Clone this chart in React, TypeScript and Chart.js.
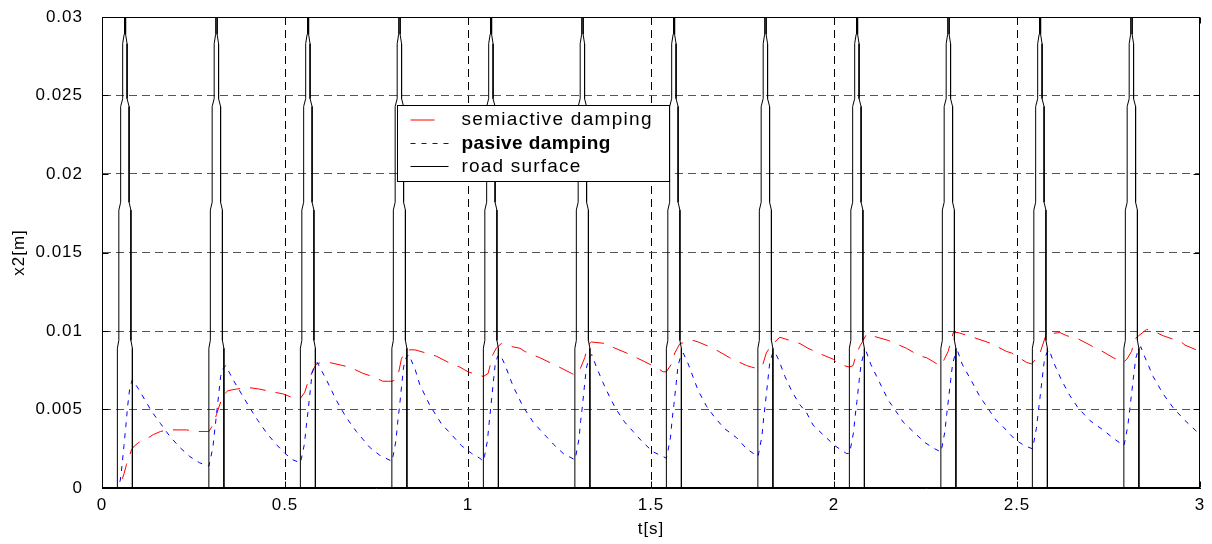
import React, { useEffect, useRef } from 'react';
import { Chart, registerables } from 'chart.js';

Chart.register(...registerables);

// ---- axis ticks ----
const xTickValues = [0, 0.5, 1, 1.5, 2, 2.5, 3];
const xTickLabels = ['0', '0.5', '1', '1.5', '2', '2.5', '3'];
const yTickValues = [0, 0.005, 0.01, 0.015, 0.02, 0.025, 0.03];
const yTickLabels = ['0', '0.005', '0.01', '0.015', '0.02', '0.025', '0.03'];

const legendLabels = ['semiactive damping', 'pasive damping', 'road surface'];

// ---- semiactive damping: [t (s), x2 (m)] ----
const semiactive: [number, number][] = [
  [0, 0], [0.042, 0], [0.05, 0.0002], [0.06, 0.0009], [0.067, 0.0015], [0.072, 0.0018], [0.08, 0.0024], [0.085, 0.0026],
  [0.09, 0.0027], [0.1, 0.0029], [0.12, 0.0031], [0.14, 0.0034], [0.16, 0.0036], [0.18, 0.0037], [0.23, 0.0037], [0.26, 0.0036], [0.292, 0.0036],
  [0.3, 0.0039], [0.308, 0.0043], [0.313, 0.0047], [0.326, 0.0056], [0.331, 0.0059], [0.344, 0.0062], [0.367, 0.0063], [0.4, 0.0064],
  [0.43, 0.0063], [0.47, 0.0061], [0.494, 0.006], [0.526, 0.0057], [0.542, 0.0057],
  [0.554, 0.0061], [0.562, 0.0067], [0.576, 0.0075], [0.586, 0.0079], [0.6, 0.008], [0.62, 0.008], [0.658, 0.0078], [0.677, 0.0077],
  [0.713, 0.0073], [0.74, 0.0071], [0.767, 0.0068], [0.792, 0.0068],
  [0.804, 0.0069], [0.809, 0.0072], [0.818, 0.0082], [0.827, 0.0087], [0.841, 0.0088], [0.855, 0.0088], [0.9, 0.0085], [0.913, 0.0084],
  [0.955, 0.0079], [0.978, 0.0077], [1.0, 0.0074], [1.042, 0.0071],
  [1.055, 0.0073], [1.068, 0.0085], [1.077, 0.0089], [1.091, 0.0092], [1.1, 0.0091], [1.142, 0.0089], [1.155, 0.0087], [1.196, 0.0083],
  [1.241, 0.0078], [1.283, 0.0073], [1.292, 0.0072],
  [1.305, 0.0075], [1.319, 0.0083], [1.328, 0.0091], [1.337, 0.0093], [1.378, 0.0092], [1.392, 0.009], [1.433, 0.0086], [1.478, 0.0081],
  [1.52, 0.0076], [1.533, 0.0074], [1.542, 0.0074],
  [1.556, 0.0079], [1.565, 0.0086], [1.579, 0.0092], [1.615, 0.0094], [1.629, 0.0093], [1.67, 0.0089], [1.715, 0.0083], [1.761, 0.0078],
  [1.775, 0.0077], [1.792, 0.0076],
  [1.806, 0.0079], [1.815, 0.0086], [1.829, 0.0091], [1.852, 0.0096], [1.866, 0.0095], [1.907, 0.0092], [1.929, 0.0089], [1.957, 0.0086],
  [1.998, 0.0082], [2.011, 0.0079], [2.042, 0.0077],
  [2.052, 0.0078], [2.061, 0.0085], [2.07, 0.009], [2.089, 0.0098], [2.103, 0.0097], [2.148, 0.0094], [2.198, 0.0089], [2.235, 0.0084],
  [2.253, 0.0083], [2.289, 0.0078],
  [2.295, 0.0079], [2.312, 0.0087], [2.326, 0.0099], [2.339, 0.0099], [2.38, 0.0096], [2.43, 0.0092], [2.471, 0.0087], [2.485, 0.0086],
  [2.526, 0.008], [2.54, 0.0079],
  [2.554, 0.0083], [2.563, 0.0086], [2.577, 0.0096], [2.581, 0.0098], [2.617, 0.0099], [2.636, 0.0097], [2.667, 0.0095], [2.708, 0.009],
  [2.726, 0.0088], [2.763, 0.0083], [2.79, 0.008],
  [2.8, 0.0082], [2.813, 0.0087], [2.822, 0.0095], [2.854, 0.0101], [2.872, 0.01], [2.899, 0.0097], [2.949, 0.0093], [2.959, 0.0091], [3.0, 0.0087],
];

// ---- pasive damping: [t (s), x2 (m)] ----
const pasive: [number, number][] = [
  [0, 0], [0.042, 0], [0.045, 0.0001], [0.05, 0.0005], [0.055, 0.0015], [0.06, 0.0027], [0.065, 0.0039], [0.07, 0.0052], [0.076, 0.0064], [0.083, 0.0069],
  [0.1, 0.0063], [0.12, 0.0055], [0.135, 0.0049], [0.16, 0.0041], [0.185, 0.0033], [0.212, 0.0026], [0.24, 0.002], [0.267, 0.0016], [0.292, 0.0014],
  [0.295, 0.0017], [0.303, 0.0026], [0.308, 0.0037], [0.3125, 0.0046], [0.319, 0.006], [0.324, 0.0071], [0.331, 0.0076], [0.338, 0.0078],
  [0.358, 0.0069], [0.381, 0.006], [0.404, 0.0051], [0.426, 0.0043], [0.45, 0.0035], [0.475, 0.0028], [0.5, 0.0022], [0.521, 0.0018], [0.542, 0.0016],
  [0.545, 0.0019], [0.553, 0.0028], [0.558, 0.0039], [0.5625, 0.0048], [0.569, 0.0062], [0.574, 0.0073], [0.581, 0.0078], [0.588, 0.008],
  [0.613, 0.0069], [0.64, 0.0056], [0.667, 0.0045], [0.695, 0.0036], [0.731, 0.0026], [0.758, 0.0021], [0.792, 0.0017],
  [0.795, 0.002], [0.803, 0.003], [0.808, 0.0042], [0.8125, 0.0051], [0.819, 0.0066], [0.824, 0.0077], [0.831, 0.0083], [0.838, 0.0085],
  [0.855, 0.0076], [0.868, 0.0066], [0.895, 0.0053], [0.927, 0.0041], [0.955, 0.0034], [0.982, 0.0027], [1.01, 0.0022], [1.032, 0.0019], [1.042, 0.0017],
  [1.045, 0.002], [1.053, 0.003], [1.058, 0.0042], [1.0625, 0.0052], [1.069, 0.0067], [1.074, 0.0078], [1.081, 0.0084], [1.088, 0.0085],
  [1.1, 0.0079], [1.123, 0.0065], [1.15, 0.0052], [1.178, 0.0042], [1.205, 0.0035], [1.233, 0.0028], [1.26, 0.0022], [1.292, 0.0018],
  [1.295, 0.0021], [1.303, 0.0031], [1.308, 0.0043], [1.3125, 0.0052], [1.319, 0.0067], [1.324, 0.0077], [1.331, 0.0083], [1.338, 0.0085],
  [1.351, 0.0077], [1.369, 0.0067], [1.387, 0.0058], [1.405, 0.005], [1.428, 0.0042], [1.451, 0.0036], [1.478, 0.0029], [1.506, 0.0023], [1.533, 0.002], [1.542, 0.0019],
  [1.545, 0.0022], [1.553, 0.0032], [1.558, 0.0044], [1.5625, 0.0053], [1.569, 0.0067], [1.574, 0.0078], [1.581, 0.0084], [1.588, 0.0086],
  [1.6, 0.008], [1.629, 0.0062], [1.652, 0.0052], [1.674, 0.0045], [1.7, 0.0038], [1.734, 0.0032], [1.761, 0.0025], [1.792, 0.002],
  [1.795, 0.0023], [1.803, 0.0033], [1.808, 0.0045], [1.8125, 0.0054], [1.819, 0.0068], [1.824, 0.0079], [1.831, 0.0085], [1.838, 0.0087],
  [1.85, 0.0081], [1.866, 0.0071], [1.886, 0.0061], [1.907, 0.0053], [1.925, 0.0048], [1.943, 0.004], [1.97, 0.0034], [2.002, 0.0027], [2.034, 0.0022], [2.042, 0.0022],
  [2.045, 0.0025], [2.053, 0.0035], [2.058, 0.0046], [2.0625, 0.0055], [2.069, 0.0069], [2.074, 0.0079], [2.081, 0.0085], [2.088, 0.0087],
  [2.1, 0.0079], [2.125, 0.0067], [2.148, 0.0056], [2.166, 0.005], [2.189, 0.0042], [2.216, 0.0036], [2.248, 0.0029], [2.275, 0.0025], [2.292, 0.0023],
  [2.295, 0.0026], [2.303, 0.0036], [2.308, 0.0047], [2.3125, 0.0056], [2.319, 0.0069], [2.324, 0.0079], [2.331, 0.0085], [2.338, 0.0087],
  [2.35, 0.0079], [2.376, 0.0068], [2.399, 0.0058], [2.417, 0.0052], [2.44, 0.0044], [2.462, 0.0039], [2.494, 0.0031], [2.52, 0.0027], [2.542, 0.0025],
  [2.545, 0.0028], [2.553, 0.0038], [2.558, 0.0048], [2.5625, 0.0057], [2.569, 0.007], [2.574, 0.008], [2.581, 0.0086], [2.588, 0.0088],
  [2.6, 0.008], [2.621, 0.0069], [2.644, 0.0059], [2.667, 0.0051], [2.699, 0.0043], [2.735, 0.0037], [2.767, 0.0031], [2.792, 0.0027],
  [2.795, 0.003], [2.803, 0.004], [2.808, 0.005], [2.8125, 0.0059], [2.819, 0.0072], [2.824, 0.0082], [2.831, 0.0088], [2.838, 0.009],
  [2.85, 0.0083], [2.872, 0.0071], [2.899, 0.006], [2.927, 0.0051], [2.959, 0.0043], [3.0, 0.0034],
];

// ---- road surface: bump start times and one bump's profile [dt (s), height (m)] ----
const roadBumpStarts = [0.042, 0.292, 0.542, 0.792, 1.042, 1.292, 1.542, 1.792, 2.042, 2.292, 2.542, 2.792];
const roadBumpProfile: [number, number][] = [
  [0, 0], [0, 0.0089], [0.004, 0.0094], [0.004, 0.0177], [0.009, 0.0182], [0.009, 0.0243], [0.0145, 0.0248],
  [0.0145, 0.0283], [0.0185, 0.0289], [0.0185, 0.045], [0.0205, 0.05], [0.0225, 0.045], [0.0225, 0.0289],
  [0.0265, 0.0283], [0.0265, 0.0248], [0.032, 0.0243], [0.032, 0.0182], [0.037, 0.0177], [0.037, 0.0094],
  [0.041, 0.0089], [0.041, 0],
];
const roadEnds: [number, number][] = [[0, 0], [3, 0]];

const FONT = "'Liberation Sans', Arial, Helvetica, sans-serif";

function buildRoad() {
  const pts: { x: number; y: number }[] = [{ x: roadEnds[0][0], y: roadEnds[0][1] }];
  roadBumpStarts.forEach((s) => {
    roadBumpProfile.forEach(([dt, h]) => pts.push({ x: s + dt, y: h }));
  });
  pts.push({ x: roadEnds[1][0], y: roadEnds[1][1] });
  return pts;
}

const toXY = (arr: [number, number][]) => arr.map(([x, y]) => ({ x, y }));

const framePlugin = {
  id: 'frameAndLegend',
  beforeDraw(chart: any) {
    chart.ctx.letterSpacing = '1px';
  },
  afterDraw(chart: any) {
    const { ctx, chartArea: a, scales } = chart;
    ctx.save();
    ctx.setLineDash([]);
    ctx.strokeStyle = '#000';
    ctx.lineWidth = 1;
    const L = Math.round(a.left) + 0.5;
    const T = Math.round(a.top) + 0.5;
    const R = Math.round(a.right) - 0.5;
    const B = Math.round(a.bottom) - 0.5;
    ctx.strokeRect(L, T, R - L, B - T);
    const tl = 6;
    ctx.beginPath();
    scales.x.ticks.forEach((t: any) => {
      const x = Math.round(scales.x.getPixelForValue(t.value)) + 0.5;
      ctx.moveTo(x, B); ctx.lineTo(x, B - tl);
      ctx.moveTo(x, T); ctx.lineTo(x, T + tl);
    });
    scales.y.ticks.forEach((t: any) => {
      const y = Math.round(scales.y.getPixelForValue(t.value)) + 0.5;
      ctx.moveTo(L, y); ctx.lineTo(L + tl, y);
      ctx.moveTo(R, y); ctx.lineTo(R - tl, y);
    });
    ctx.stroke();

    // legend box
    const lx = 397.5, ly = 105.5, lw = 272, lh = 76;
    ctx.fillStyle = '#fff';
    ctx.fillRect(lx, ly, lw, lh);
    ctx.strokeRect(lx, ly, lw, lh);
    const rows = [
      { y: 120, color: '#ff0000', dash: [] as number[], len: 24, bold: false, spacing: '1.3px' },
      { y: 143.5, color: '#0000ff', dash: [5, 6], len: 38, bold: true, spacing: '0.4px' },
      { y: 166.5, color: '#000000', dash: [] as number[], len: 38, bold: false, spacing: '1.2px' },
    ];
    rows.forEach((r, i) => {
      ctx.beginPath();
      ctx.setLineDash(r.dash);
      ctx.strokeStyle = r.color;
      ctx.moveTo(410.5, r.y);
      ctx.lineTo(410.5 + r.len, r.y);
      ctx.stroke();
      ctx.setLineDash([]);
      ctx.fillStyle = '#000';
      ctx.font = `${r.bold ? 'bold ' : ''}19px ${FONT}`;
      ctx.letterSpacing = r.spacing;
      ctx.textAlign = 'left';
      ctx.textBaseline = 'middle';
      ctx.fillText(legendLabels[i], 461.5, r.y);
    });
    ctx.restore();
  },
};

export default function App() {
  const ref = useRef<HTMLCanvasElement | null>(null);
  useEffect(() => {
    if (!ref.current) return;
    const chart = new Chart(ref.current, {
      type: 'line',
      data: {
        datasets: [
          {
            label: legendLabels[2],
            data: buildRoad(),
            borderColor: '#000000',
            borderWidth: 1,
            pointRadius: 0,
            tension: 0,
          },
          {
            label: legendLabels[1],
            data: toXY(pasive),
            borderColor: '#0000ff',
            borderWidth: 1,
            borderDash: [5, 6],
            pointRadius: 0,
            tension: 0,
          },
          {
            label: legendLabels[0],
            data: toXY(semiactive),
            borderColor: '#ff0000',
            borderWidth: 1,
            borderDash: [16, 10],
            pointRadius: 0,
            tension: 0,
          },
        ],
      },
      options: {
        animation: false,
        responsive: false,
        devicePixelRatio: 1,
        parsing: false as any,
        normalized: true,
        layout: { padding: { left: 0, right: 12, top: 17, bottom: 0 } },
        plugins: {
          legend: { display: false },
          tooltip: { enabled: false },
        },
        scales: {
          x: {
            type: 'linear',
            min: 0,
            max: 3,
            afterBuildTicks: (scale: any) => {
              scale.ticks = xTickValues.map((v) => ({ value: v }));
            },
            afterFit: (scale: any) => {
              scale.height = 56;
              scale.paddingLeft = 0;
              scale.paddingRight = 0;
              scale.paddingTop = 0;
              scale.paddingBottom = 0;
            },
            ticks: {
              autoSkip: false,
              maxRotation: 0,
              padding: 7,
              color: '#000',
              font: { family: FONT, size: 17 },
              callback: (_v: any, i: number) => xTickLabels[i],
            },
            grid: {
              color: (c: any) => (c.index === 0 || c.index === xTickValues.length - 1 ? 'rgba(0,0,0,0)' : '#000'),
              lineWidth: 1,
              drawTicks: false,
            },
            border: { display: true, color: '#000', width: 1, dash: [8, 5] },
            title: {
              display: true,
              text: 't[s]',
              color: '#000',
              font: { family: FONT, size: 17 },
              padding: { top: 0, bottom: 4 },
            },
          },
          y: {
            type: 'linear',
            min: 0,
            max: 0.03,
            afterBuildTicks: (scale: any) => {
              scale.ticks = yTickValues.map((v) => ({ value: v }));
            },
            afterFit: (scale: any) => {
              scale.width = 102;
              scale.paddingLeft = 0;
              scale.paddingRight = 0;
              scale.paddingTop = 0;
              scale.paddingBottom = 0;
            },
            ticks: {
              autoSkip: false,
              padding: 19,
              color: '#000',
              font: { family: FONT, size: 17 },
              callback: (_v: any, i: number) => yTickLabels[i],
            },
            grid: {
              color: (c: any) => (c.index === 0 || c.index === yTickValues.length - 1 ? 'rgba(0,0,0,0)' : '#555'),
              lineWidth: 1,
              drawTicks: false,
            },
            border: { display: true, color: '#000', width: 1, dash: [8, 5] },
            title: {
              display: true,
              text: 'x2[m]',
              color: '#000',
              font: { family: FONT, size: 17 },
              padding: { top: 9, bottom: 0 },
            },
          },
        },
      },
      plugins: [framePlugin],
    });
    return () => chart.destroy();
  }, []);

  return (
    <div style={{ position: 'fixed', left: 0, top: 0, width: 1212, height: 544, background: '#fff' }}>
      <canvas ref={ref} width={1212} height={544} style={{ display: 'block' }} />
    </div>
  );
}
